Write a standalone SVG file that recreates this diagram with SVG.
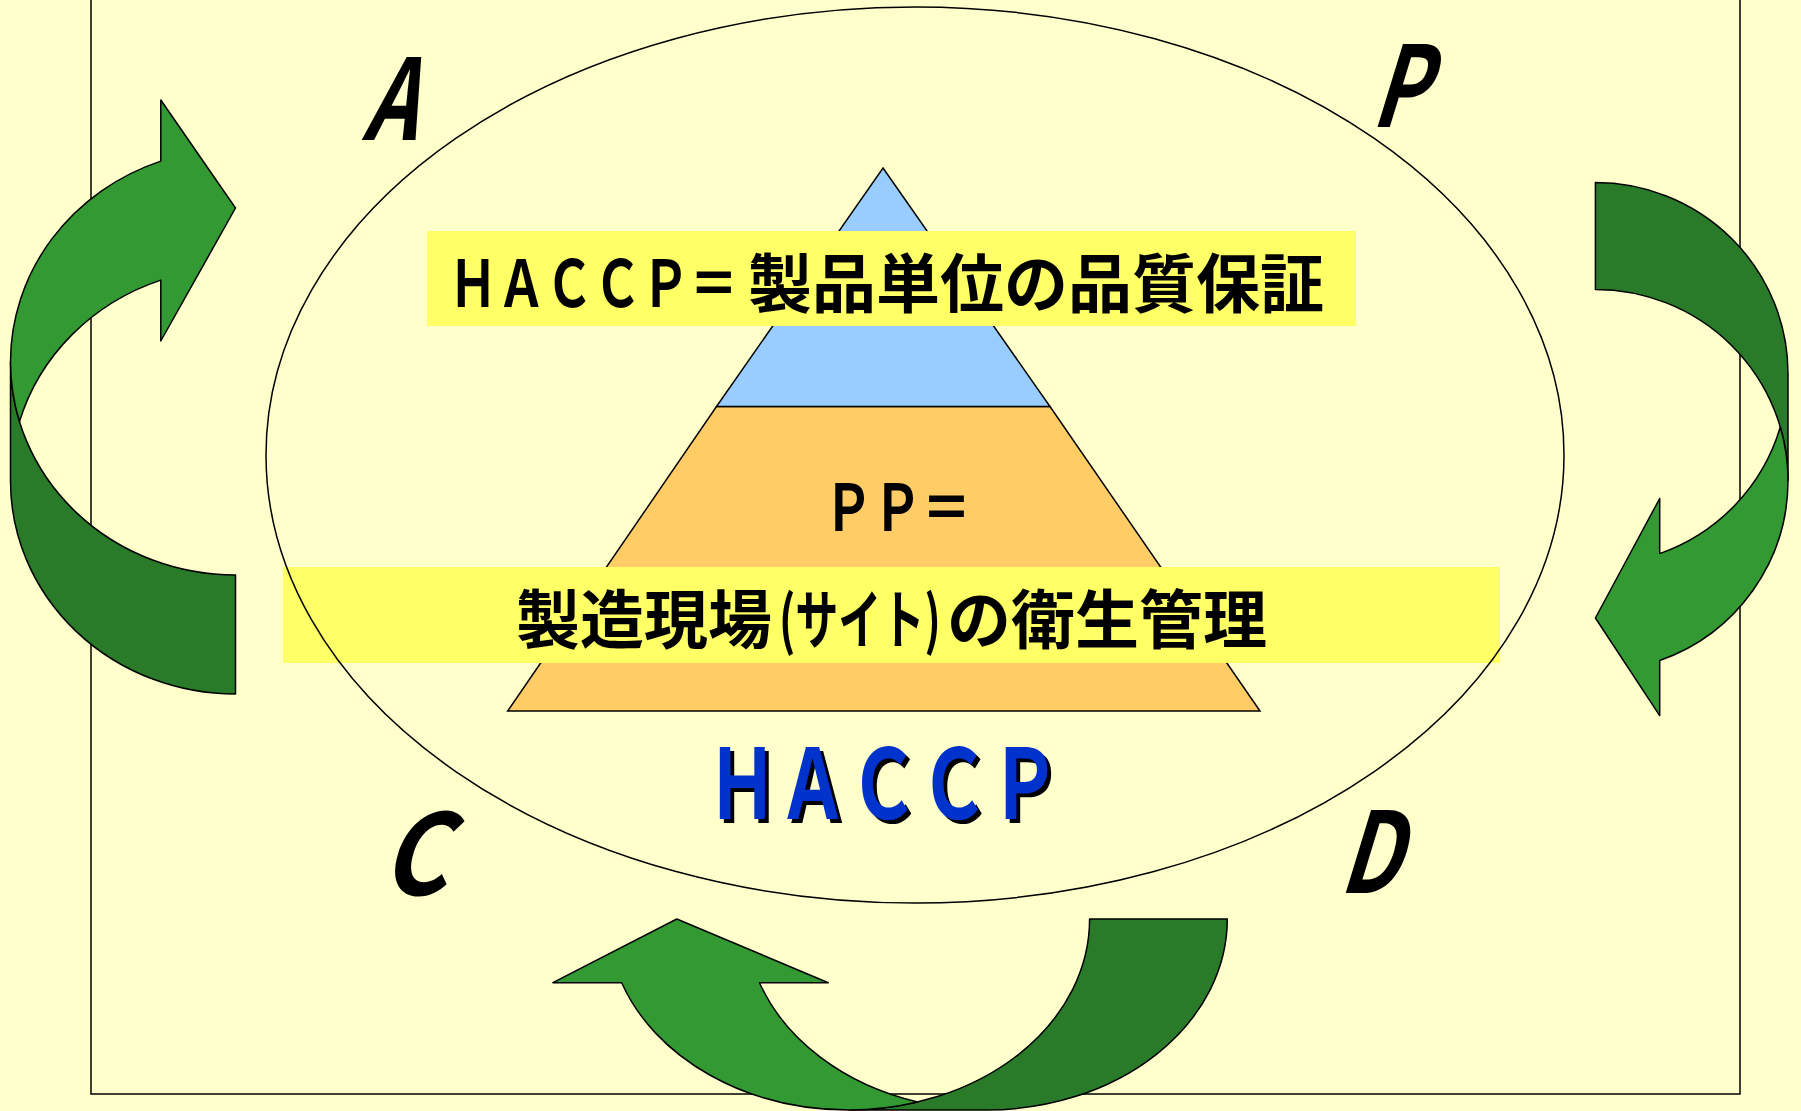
<svg xmlns="http://www.w3.org/2000/svg" width="1801" height="1111" viewBox="0 0 1801 1111">
<defs>
<style>
.line{fill:none;stroke:#000;stroke-width:1.5}
.jp{font-family:"Noto Sans CJK JP","Noto Sans",sans-serif;font-weight:700;fill:#000}
.pdca{font-family:"Noto Sans CJK JP","Noto Sans",sans-serif;font-weight:700;font-size:112px;fill:#000}
.lbl{fill:#FFFF66;stroke:none}
.arrow-light{fill:#339933;stroke:#000;stroke-width:1.5;stroke-linejoin:round}
.arrow-dark{fill:#297A29;stroke:#000;stroke-width:1.5;stroke-linejoin:round}
</style>
<filter id="shadow" x="-10%" y="-10%" width="130%" height="130%">
<feDropShadow dx="5.5" dy="4" stdDeviation="0" flood-color="#000" flood-opacity="1"/>
</filter>
</defs>
<rect x="0" y="0" width="1801" height="1111" fill="#FFFFCC"/>
<g id="frame"><rect class="line" x="91" y="-10" width="1649" height="1104"/></g>

<g id="pyramid">
<g id="pyramid-base">
<polygon points="716.5,406.6 1050,406.6 1260,711 507.7,711" fill="#FFCC66" stroke="#000" stroke-width="1.5"/>
<text class="jp" font-size="64" transform="translate(824,531) scale(0.7656,1)">ＰＰ＝</text>
</g>
<g id="pyramid-top">
<polygon points="883,168 1050,406.6 716.5,406.6" fill="#99CCFF" stroke="#000" stroke-width="1.5"/>
</g>
</g>

<g id="label-haccp">
<rect class="lbl" x="427" y="231" width="929" height="95"/>
<text class="jp" font-size="64" transform="translate(449,307) scale(0.7526,1)">ＨＡＣＣＰ＝</text>
<text class="jp" x="748" y="307" font-size="64">製品単位の品質保証</text>
</g>

<g id="label-site">
<rect class="lbl" x="283" y="567" width="1217" height="96"/>
<text class="jp" x="516" y="643" font-size="64">製造現場</text>
<text class="jp" font-size="64" transform="translate(779,643) scale(0.673,1)">(サイト)</text>
<text class="jp" x="947" y="643" font-size="64">の衛生管理</text>
</g>

<g id="cycle"><ellipse class="line" cx="915" cy="455" rx="649" ry="448" stroke-width="1.3"/></g>

<g id="haccp-title">
<text class="jp" font-size="97" style="fill:#0033CC" filter="url(#shadow)" transform="translate(707,819) scale(0.728,1)">ＨＡＣＣＰ</text>
</g>

<g id="pdca-a"><text class="pdca" transform="translate(362,140) skewX(-17) scale(0.74,1)">A</text></g>
<g id="pdca-p"><text class="pdca" transform="translate(1370,127) skewX(-17) scale(0.74,1)">P</text></g>
<g id="pdca-c"><text class="pdca" transform="translate(380,895) skewX(-17) scale(0.9,1)">C</text></g>
<g id="pdca-d"><text class="pdca" transform="translate(1338,893) skewX(-17) scale(0.76,1)">D</text></g>

<g id="connectors">
<g id="arrow-left">
<path class="arrow-dark" d="M10.5,362 L10.5,481 A225 213 0 0 0 235.5,694 L235.5,575 A225 213 0 0 1 10.5,362 Z"/>
<path class="arrow-light" d="M160.8,161.1 A225 213 0 0 0 10.5,362 A225 213 0 0 0 19.5,421.5 A225 213 0 0 1 160.8,280.1 L160.8,341 L235.5,208 L160.8,100 Z"/>
</g>
<g id="arrow-right">
<path class="arrow-dark" d="M1595.4,182.6 A192.6 191 0 0 1 1788,373.6 L1788,480.5 A192.6 191 0 0 0 1595.4,289.5 Z"/>
<path class="arrow-light" d="M1659.7,498.5 L1659.7,553.6 A192.6 191 0 0 0 1780.3,427 A192.6 191 0 0 1 1788,480.5 A192.6 191 0 0 1 1659.7,660.5 L1659.7,715.6 L1595.4,618 Z"/>
</g>
<g id="arrow-bottom">
<path class="arrow-dark" d="M1227.3,919 A240.8 191 0 0 1 986.5,1110 L848.8,1110 A240.8 191 0 0 0 1089.6,919 Z"/>
<path class="arrow-light" d="M621.7,982.7 A240.8 191 0 0 0 848.8,1110 A240.8 191 0 0 0 917.65,1102 A240.8 191 0 0 1 759.5,982.7 L828.3,982.7 L676.8,919 L552.9,982.7 Z"/>
</g>
</g>
</svg>
